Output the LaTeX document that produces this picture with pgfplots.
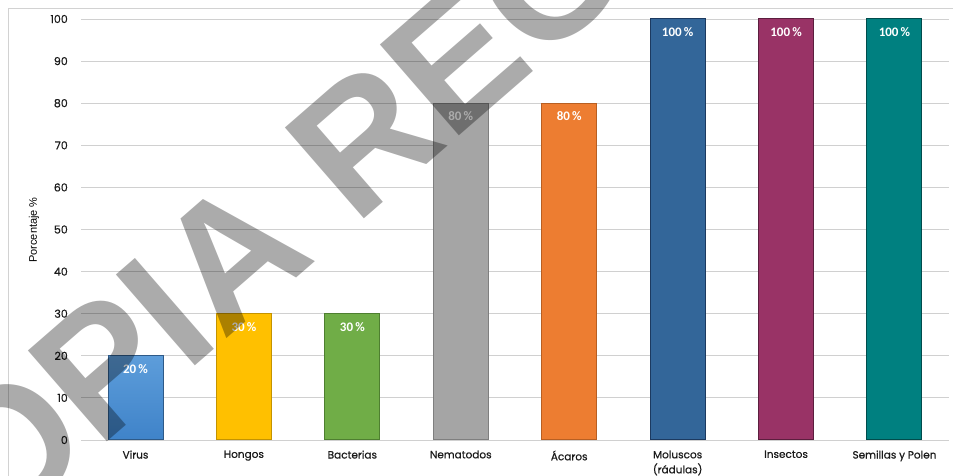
\documentclass[border=0pt]{standalone}
\usepackage{fontspec}
\setmainfont{Poppins}
\newfontfamily\tickf[FakeBold=0.6]{Poppins}
\newfontfamily\lab{Liberation Sans}
\newfontfamily\barfont{Carlito}
\newfontfamily\wm{Liberation Sans}
\usepackage{pgfplots}
\pgfplotsset{compat=1.18}
\definecolor{virusT}{HTML}{5D9DDA}
\definecolor{virusB}{HTML}{3F83C9}
\definecolor{virusD}{HTML}{2E5A88}
\definecolor{hongF}{HTML}{FFC000}
\definecolor{hongD}{HTML}{C49300}
\definecolor{bactF}{HTML}{70AD47}
\definecolor{bactD}{HTML}{4E7F30}
\definecolor{nemF}{HTML}{A5A5A5}
\definecolor{nemD}{HTML}{7F7F7F}
\definecolor{acaF}{HTML}{ED7D31}
\definecolor{acaD}{HTML}{B85F22}
\definecolor{molF}{HTML}{336699}
\definecolor{molD}{HTML}{1C3A60}
\definecolor{insF}{HTML}{993366}
\definecolor{insD}{HTML}{5C1E3E}
\definecolor{semF}{HTML}{008080}
\definecolor{semD}{HTML}{004C4C}
\definecolor{gridc}{HTML}{D0D0D0}
\definecolor{txt}{HTML}{1A1A1A}
\begin{document}
\begin{tikzpicture}
\draw[gray!35, line width=0.8pt] (8pt,-5pt) rectangle (965pt,468pt);
\begin{axis}[
  at={(81.3pt,36pt)}, anchor=south west,
  width=867.4pt, height=421pt, scale only axis,
  xmin=-0.5, xmax=7.5, ymin=0, ymax=100,
  ytick={0,10,...,100}, xtick={0,...,7},
  xticklabels={Virus,Hongos,Bacterias,Nematodos,Ácaros,{Moluscos\\(rádulas)},Insectos,Semillas y Polen},
  xticklabel style={align=center, font=\tickf\fontsize{10.5}{15}\selectfont, text=txt, yshift=-7pt},
  yticklabel style={font=\tickf\fontsize{11}{12}\selectfont, text=txt, xshift=-10pt},
  /pgf/number format/assume math mode=true,
  axis line style={draw=none}, major tick length=0pt,
  ymajorgrids, grid style={gridc, line width=0.9pt},
  clip=false,
  every axis plot/.append style={ybar, bar width=55pt, bar shift=0pt, line width=1pt},
  nodes near coords={\pgfmathprintnumber{\pgfplotspointmeta}\,\%},
  every node near coord/.append style={font=\barfont\bfseries\fontsize{13}{13}\selectfont, text=white, anchor=center, yshift=-13pt},
]
\addplot[top color=virusT, bottom color=virusB, draw=virusD] coordinates {(0,20)};
\addplot[fill=hongF, draw=hongD] coordinates {(1,30)};
\addplot[fill=bactF, draw=bactD] coordinates {(2,30)};
\addplot[fill=nemF, draw=nemD] coordinates {(3,80)};
\addplot[fill=acaF, draw=acaD] coordinates {(4,80)};
\addplot[fill=molF, draw=molD] coordinates {(5,100)};
\addplot[fill=insF, draw=insD] coordinates {(6,100)};
\addplot[fill=semF, draw=semD] coordinates {(7,100)};
\end{axis}
\node[rotate=90, font=\lab\fontsize{11}{11}\selectfont, text=black] at (34pt,246pt) {Porcentaje \%};
\node[rotate=41, anchor=base west, font=\wm\bfseries\fontsize{175}{175}\selectfont, text=black, text opacity=0.33, inner sep=0pt] at (-100pt,-146pt) {COPIA REGISTRADA};
\pgfresetboundingbox
\path[use as bounding box] (0pt,0pt) rectangle (953pt,476pt);
\end{tikzpicture}
\end{document}
